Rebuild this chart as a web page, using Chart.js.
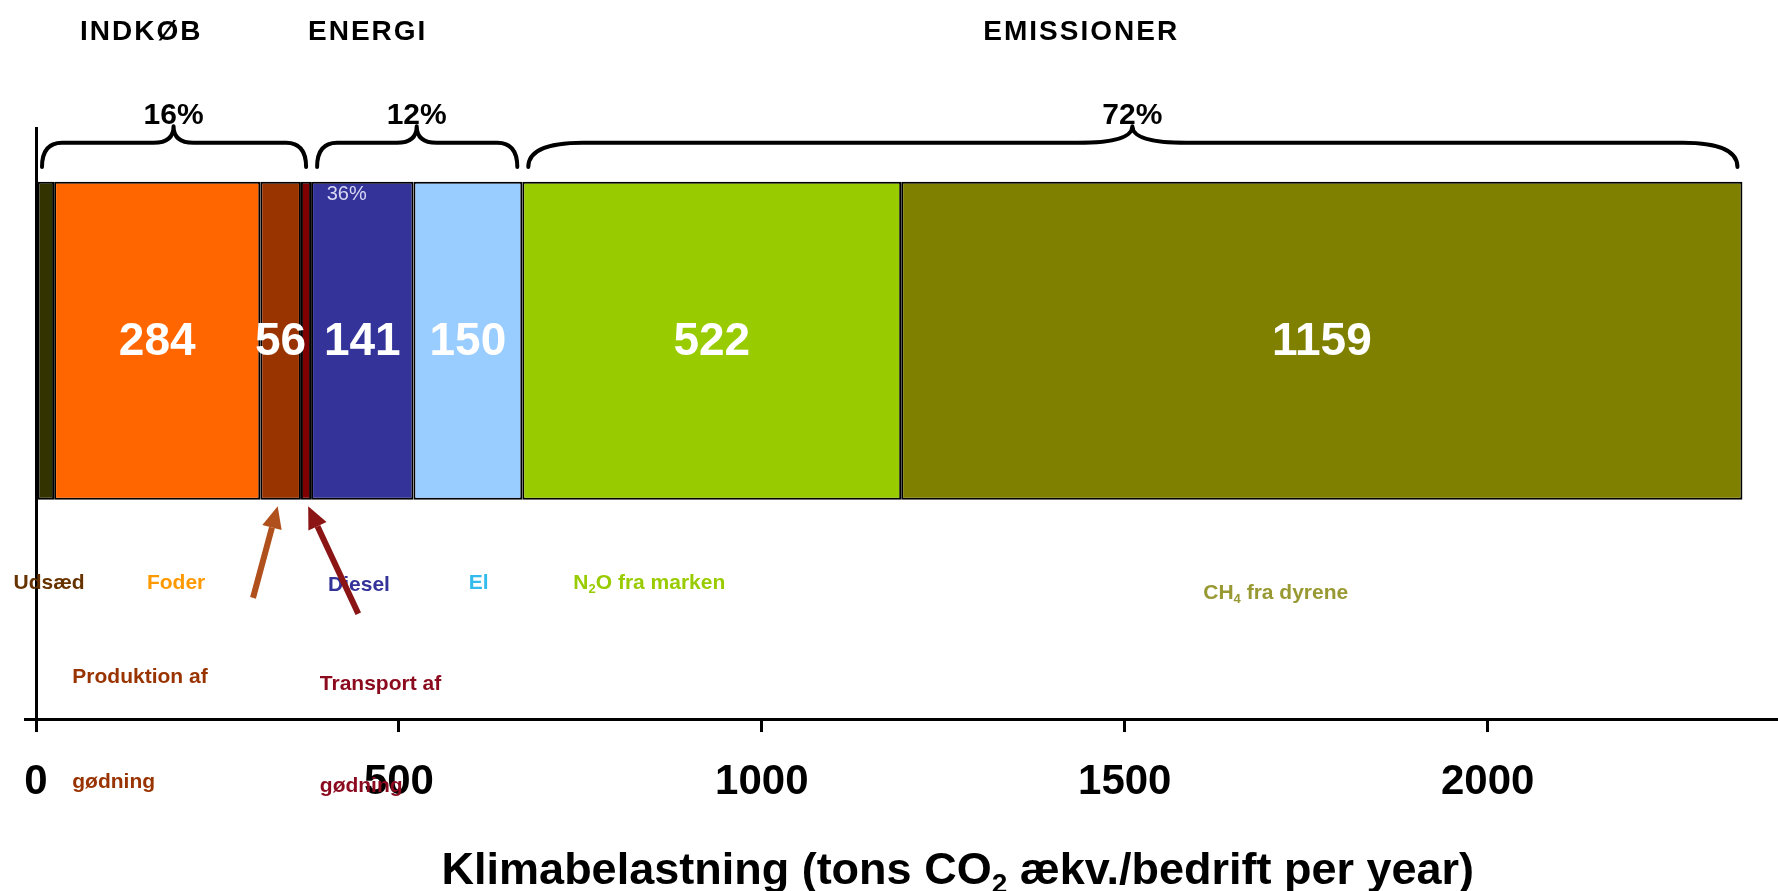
<!DOCTYPE html>
<html>
<head>
<meta charset="utf-8">
<script src="https://cdn.jsdelivr.net/npm/chart.js@4.4.0/dist/chart.umd.min.js"></script>
<style>
html,body{margin:0;padding:0;background:#fff;}
canvas{display:block;}
</style>
</head>
<body>
<canvas id="c" width="1778" height="891"></canvas>
<script>
// ---------------- DATA ----------------
const categories = ['Udsæd', 'Foder', 'Produktion af gødning', 'Transport af gødning', 'Diesel', 'El', 'N₂O fra marken', 'CH₄ fra dyrene'];
const values = [25, 284, 56, 14, 141, 150, 522, 1159];
const valueLabels = ['', '284', '56', '', '141', '150', '522', '1159'];
const groups = ['INDKØB', 'ENERGI', 'EMISSIONER'];
const groupSizes = [4, 2, 2];
const groupShares = ['16%', '12%', '72%'];
const dieselShare = '36%';
const xTicks = [0, 500, 1000, 1500, 2000];
const axisTitle = 'Klimabelastning (tons CO₂ ækv./bedrift per year)';

// ---------------- STYLE / LAYOUT ----------------
const FONT = "'Liberation Sans', Arial, Helvetica, sans-serif";
const segmentColors = ['#333300', '#FF6600', '#993300', '#800000', '#333399', '#99CCFF', '#99CC00', '#808000'];
const barRow = 0.64;              // position of the bar on the (hidden) y scale, 0..1
const labelStyle = [
  {color: '#663300', x: 18,   y: [0.230],          align: 'center'},
  {color: '#FF9900', x: 193,  y: [0.230],          align: 'center'},
  {color: '#993300', x: 50,   y: [0.071, -0.107],  align: 'left'},
  {color: '#8B0A1E', x: 391,  y: [0.059, -0.113],  align: 'left'},
  {color: '#333399', x: 445,  y: [0.227],          align: 'center'},
  {color: '#33BBEE', x: 610,  y: [0.230],          align: 'center'},
  {color: '#99CC00', x: 845,  y: [0.230],          align: 'center'},
  {color: '#999933', x: 1708, y: [0.213],          align: 'center'}
];
const titleAnchors = [145, 457, 1440];
const titleRow = 1.162, shareRow = 1.021;
const braceRows = {end: 0.934, line: 0.975, tip: 1.003};
const dieselShareAt = {x: 428, y: 0.887};
const axisTitleAt = {x: 1270, y: -0.258};
const arrows = [
  {from: [299, 0.205], to: [333, 0.360], color: '#B0501C'},
  {from: [444, 0.178], to: [375, 0.360], color: '#8B1414'}
];

const SUB = {'₀':'0','₁':'1','₂':'2','₃':'3','₄':'4','₅':'5','₆':'6','₇':'7','₈':'8','₉':'9'};
function drawRich(ctx, text, x, y, align, size, weight, color) {
  const runs = [];
  for (const ch of text) {
    const sub = SUB[ch] !== undefined;
    const c = sub ? SUB[ch] : ch;
    if (runs.length && runs[runs.length - 1].sub === sub) runs[runs.length - 1].t += c;
    else runs.push({t: c, sub});
  }
  const fontFor = r => `${weight} ${r.sub ? Math.round(size * 0.62) : size}px ${FONT}`;
  let total = 0;
  runs.forEach(r => { ctx.font = fontFor(r); r.w = ctx.measureText(r.t).width; total += r.w; });
  let cx = align === 'center' ? x - total / 2 : (align === 'right' ? x - total : x);
  ctx.textAlign = 'left';
  ctx.textBaseline = 'middle';
  ctx.fillStyle = color;
  runs.forEach(r => { ctx.font = fontFor(r); ctx.fillText(r.t, cx, y + (r.sub ? size * 0.3 : 0)); cx += r.w; });
}

function drawBrace(ctx, x1, x2, xm, yEnd, yLine, yTip) {
  const r = Math.max(20, Math.min(55, (x2 - x1) * 0.045));
  ctx.beginPath();
  ctx.moveTo(x1, yEnd);
  ctx.quadraticCurveTo(x1, yLine, x1 + r, yLine);
  ctx.lineTo(xm - r, yLine);
  ctx.quadraticCurveTo(xm, yLine, xm, yTip);
  ctx.moveTo(x2, yEnd);
  ctx.quadraticCurveTo(x2, yLine, x2 - r, yLine);
  ctx.lineTo(xm + r, yLine);
  ctx.quadraticCurveTo(xm, yLine, xm, yTip);
  ctx.stroke();
}

function drawArrow(ctx, x0, y0, x1, y1, color) {
  const ang = Math.atan2(y1 - y0, x1 - x0);
  const hl = 22, hw = 10;
  const bx = x1 - hl * Math.cos(ang), by = y1 - hl * Math.sin(ang);
  ctx.strokeStyle = color; ctx.fillStyle = color;
  ctx.lineWidth = 6; ctx.lineCap = 'butt';
  ctx.beginPath(); ctx.moveTo(x0, y0); ctx.lineTo(bx, by); ctx.stroke();
  ctx.beginPath();
  ctx.moveTo(x1, y1);
  ctx.lineTo(bx + hw * Math.sin(ang), by - hw * Math.cos(ang));
  ctx.lineTo(bx - hw * Math.sin(ang), by + hw * Math.cos(ang));
  ctx.closePath(); ctx.fill();
}

const annotPlugin = {
  id: 'annot',
  afterDraw(chart) {
    const {ctx} = chart;
    const xs = chart.scales.x, ys = chart.scales.y;
    const X = v => xs.getPixelForValue(v), Y = v => ys.getPixelForValue(v);
    ctx.save();

    chart.data.datasets.forEach((ds, i) => {
      const el = chart.getDatasetMeta(i).data[0];
      if (!el || !valueLabels[i]) return;
      const p = el.getProps(['x', 'y', 'base'], true);
      ctx.font = `bold 46px ${FONT}`;
      ctx.fillStyle = '#ffffff';
      ctx.textAlign = 'center';
      ctx.textBaseline = 'middle';
      ctx.fillText(valueLabels[i], (p.x + p.base) / 2, p.y + 2);
    });

    ctx.font = `20px ${FONT}`;
    ctx.fillStyle = '#D8D8F4';
    ctx.textAlign = 'center';
    ctx.textBaseline = 'middle';
    ctx.fillText(dieselShare, X(dieselShareAt.x), Y(dieselShareAt.y));

    let start = 0, idx = 0;
    groups.forEach((g, gi) => {
      let sum = 0;
      for (let k = 0; k < groupSizes[gi]; k++) sum += values[idx + k];
      idx += groupSizes[gi];
      const a = start, b = start + sum;
      start = b;
      const x1 = X(a) + 6, x2 = X(b) - 5, xm = X((a + b) / 2);
      ctx.strokeStyle = '#000'; ctx.lineWidth = 4; ctx.lineCap = 'round';
      drawBrace(ctx, x1, x2, xm, Y(braceRows.end), Y(braceRows.line), Y(braceRows.tip));
      ctx.fillStyle = '#000';
      ctx.font = `bold 30px ${FONT}`;
      ctx.textAlign = 'center'; ctx.textBaseline = 'middle';
      ctx.fillText(groupShares[gi], xm, Y(shareRow));
      ctx.font = `bold 28px ${FONT}`;
      try { ctx.letterSpacing = '2px'; } catch (e) {}
      ctx.fillText(g, X(titleAnchors[gi]), Y(titleRow));
      try { ctx.letterSpacing = '0px'; } catch (e) {}
    });

    categories.forEach((name, i) => {
      const st = labelStyle[i];
      let lines = [name];
      if (st.y.length > 1) {
        const cut = name.lastIndexOf(' ');
        lines = [name.slice(0, cut), name.slice(cut + 1)];
      }
      lines.forEach((ln, li) => drawRich(ctx, ln, X(st.x), Y(st.y[li]), st.align, 21, 'bold', st.color));
    });

    arrows.forEach(a => drawArrow(ctx, X(a.from[0]), Y(a.from[1]), X(a.to[0]), Y(a.to[1]), a.color));

    drawRich(ctx, axisTitle, X(axisTitleAt.x), Y(axisTitleAt.y), 'center', 45, 'bold', '#000');

    ctx.restore();
  }
};

Chart.defaults.font.family = FONT;

const datasets = categories.map((name, i) => ({
  label: name,
  data: [{x: values[i], y: barRow}],
  backgroundColor: segmentColors[i],
  borderColor: '#000',
  borderWidth: 2,
  borderSkipped: false,
  barPercentage: 0.538,
  categoryPercentage: 1
}));

new Chart(document.getElementById('c').getContext('2d'), {
  type: 'bar',
  data: {datasets},
  options: {
    indexAxis: 'y',
    responsive: false,
    animation: false,
    layout: {padding: {top: 128, left: 24, right: 0, bottom: 59}},
    plugins: {legend: {display: false}, tooltip: {enabled: false}},
    scales: {
      x: {
        type: 'linear', stacked: true, min: 0, max: 2400, position: 'bottom', offset: false,
        afterBuildTicks: scale => { scale.ticks = xTicks.map(v => ({value: v})); },
        ticks: {
          padding: 0, maxRotation: 0, autoSkip: false,
          color: '#000', font: {size: 42, weight: 'bold', lineHeight: 2.38},
          callback: v => String(v)
        },
        grid: {display: true, offset: false, drawOnChartArea: false, drawTicks: true, tickLength: 13, color: '#000', lineWidth: 3},
        border: {display: true, color: '#000', width: 3},
        title: {display: false}
      },
      y: {
        type: 'linear', stacked: true, min: 0, max: 1, position: 'left', offset: false,
        ticks: {display: false, stepSize: 1},
        grid: {
          display: true, offset: false, drawOnChartArea: false, drawTicks: true, tickLength: 12, lineWidth: 3,
          color: c => (c.tick && c.tick.value === 0) ? '#000' : 'rgba(0,0,0,0)'
        },
        border: {display: true, color: '#000', width: 3}
      }
    }
  },
  plugins: [annotPlugin]
});
</script>
</body>
</html>
